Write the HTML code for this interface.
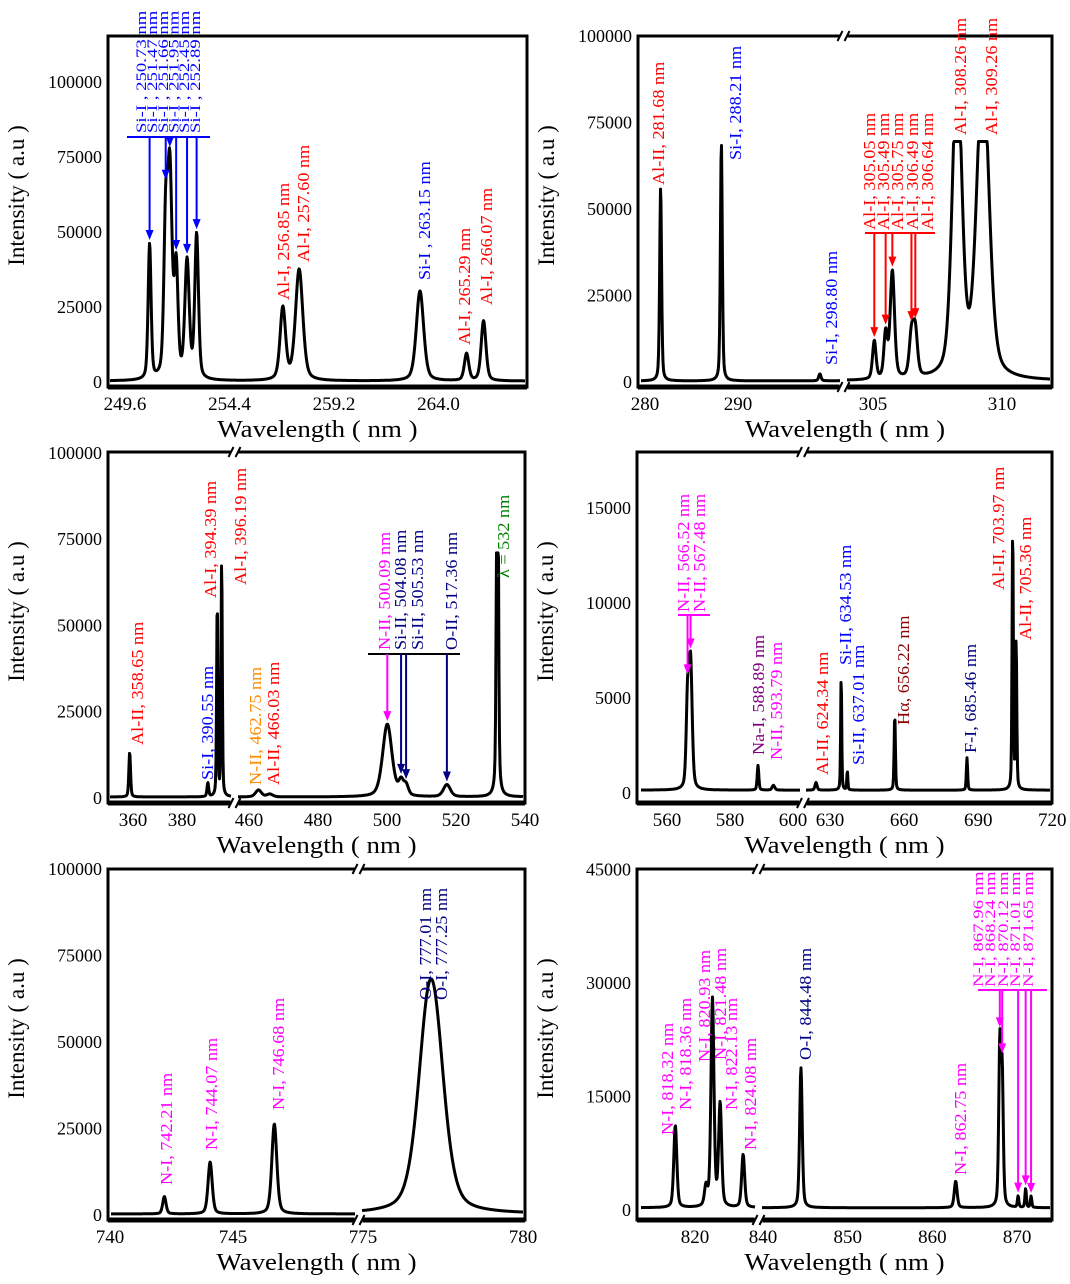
<!DOCTYPE html>
<html><head><meta charset="utf-8"><style>
html,body{margin:0;padding:0;background:#fff;}
svg{display:block;font-family:"Liberation Serif",serif;}
</style></head><body>
<svg id="fig" width="1070" height="1284" viewBox="0 0 1070 1284" xmlns="http://www.w3.org/2000/svg"></svg>
<script>
// ---------- data ----------
const p1YTicks=[0,25000,50000,75000,100000];
const p1XTicks=[249.6,254.4,259.2,264.0];
const p1Centers=[250.73,251.47,251.66,251.95,252.45,252.89,256.85,257.6,263.15,265.29,266.07];
const p1Heights=[45000,50000,68000,36000,39000,48000,24000,37000,30000,9000,20000];
const p1Widths=[0.08,0.1,0.12,0.1,0.12,0.1,0.15,0.2,0.2,0.12,0.13];

const p2YTicks=[0,25000,50000,75000,100000];
const p2XTicks=[280,290,305,310];
const p2Centers=[281.68,288.21,298.8,305.05,305.49,305.75,306.49,306.64,308.26,309.26];
const p2Heights=[56000,69000,2000,11000,13000,31000,12000,13000,90000,90000];
const p2Widths=[0.12,0.12,0.15,0.08,0.08,0.1,0.1,0.1,0.22,0.28];

const p3YTicks=[0,25000,50000,75000,100000];
const p3XTicks=[360,380,460,480,500,520,540];
const p3Centers=[358.65,390.55,394.39,396.19,462.75,466.03,500.09,504.08,505.53,517.36,532.0];
const p3Heights=[13000,4000,57000,69000,2000,800,21000,4000,3000,3500,150000];
const p3Widths=[0.4,0.4,0.3,0.3,1,1,1.6,0.8,0.8,1.2,0.3];

const p4YTicks=[0,5000,10000,15000];
const p4XTicks=[560,580,600,630,660,690,720];
const p4Centers=[566.52,567.48,588.89,593.79,624.34,634.53,637.01,656.22,685.46,703.97,705.36];
const p4Heights=[4500,6700,1300,250,400,6100,1000,4000,1700,13800,7800];
const p4Widths=[0.5,0.6,0.3,0.5,0.5,0.25,0.25,0.3,0.3,0.3,0.3];

const p5YTicks=[0,25000,50000,75000,100000];
const p5XTicks=[740,745,775,780];
const p5Centers=[742.21,744.07,746.68,777.01,777.25];
const p5Heights=[5000,15000,26000,37000,36000];
const p5Widths=[0.08,0.1,0.12,0.4,0.4];

const p6YTicks=[0,15000,30000,45000];
const p6XTicks=[820,840,850,860,870];
const p6Centers=[818.32,818.36,820.93,821.48,822.13,824.08,844.48,862.75,867.96,868.24,870.12,871.01,871.65];
const p6Heights=[8000,3000,2500,27500,13500,7000,18500,3500,21000,17000,1500,2500,1500];
const p6Widths=[0.15,0.15,0.15,0.15,0.15,0.15,0.18,0.2,0.15,0.15,0.1,0.1,0.1];

// ---------- helpers ----------
const NS='http://www.w3.org/2000/svg';
const svg=document.getElementById('fig');
function el(tag,attrs,parent){const e=document.createElementNS(NS,tag);for(const k in attrs)e.setAttribute(k,attrs[k]);(parent||svg).appendChild(e);return e;}
function stretch(t,f){const w=t.getComputedTextLength();if(w>0){t.setAttribute('textLength',(w*f).toFixed(1));t.setAttribute('lengthAdjust','spacingAndGlyphs');}}
const C={r:'#ff0000',b:'#0000ff',n:'#000080',m:'#ff00ff',g:'#008000',o:'#ff8c00',p:'#800080',d:'#8b0000'};

function panel(cfg){
  const g=el('g',{});
  
  
  const yp=v=>cfg.y0-v*cfg.ky;
  const xp=(v,tol)=>{tol=tol||0;for(const s of cfg.segs){const d0=s.ref+(s.p0-s.refPx-tol)/s.k,d1=s.ref+(s.p1-s.refPx+tol)/s.k;if(v>=d0-1e-9&&v<=d1+1e-9)return s.refPx+(v-s.ref)*s.k;}return null;};
  const spec=x=>{let y=cfg.base||300;for(let i=0;i<cfg.centers.length;i++){const d=(x-cfg.centers[i])/cfg.widths[i];y+=cfg.heights[i]*(0.6*Math.exp(-0.693*d*d)+0.4/(1+d*d));}return Math.min(y,cfg.cap||1e9);};
  cfg.segs.forEach((s,si)=>{
    let pts=[];
    for(let p=s.p0;p<=s.p1;p+=0.5){const v=s.ref+(p-s.refPx)/s.k;pts.push(p.toFixed(1)+','+yp(spec(v)).toFixed(1));}
    const pl=el('polyline',{points:pts.join(' '),fill:'none',stroke:'#000','stroke-width':3,'stroke-linejoin':'round'},g);
    
    
  });
  const fr=el('rect',{x:cfg.l,y:cfg.t,width:cfg.r-cfg.l,height:cfg.b-cfg.t,fill:'none',stroke:'#000','stroke-width':3},g);
  
  
  el('line',{x1:cfg.l,x2:cfg.r,y1:cfg.b,y2:cfg.b,stroke:'#000','stroke-width':5},g);
  if(cfg.segs.length>1){
    const bx=(cfg.segs[0].p1+cfg.segs[1].p0)/2;
    [cfg.t,cfg.b].forEach(yy=>{
      el('rect',{x:bx-4,y:yy-4,width:8,height:8,fill:'#fff'},g);
      const bk=el('path',{d:`M${bx-6},${yy+5} L${bx-1},${yy-5} M${bx+1},${yy+5} L${bx+6},${yy-5}`,stroke:'#000','stroke-width':2,fill:'none'},g);
      
      
    });
  }
  cfg.yTicks.forEach(v=>{
    const t=el('text',{x:cfg.l-6,y:yp(v)+6,'text-anchor':'end','font-size':18},g);
    
    
    t.textContent=v;
  });
  cfg.xTicks.forEach(v=>{
    const x=xp(v,20);if(x===null)return;
    const t=el('text',{x:x,y:cfg.b+23,'text-anchor':'middle','font-size':19},g);
    
    
    t.textContent=(cfg.fix?v.toFixed(1):v);
  });
  const yt=el('text',{transform:`translate(${cfg.l-84},${(cfg.t+cfg.b)/2-16}) rotate(-90)`,'text-anchor':'middle','font-size':23},g);
  
  
  yt.textContent='Intensity ( a.u )';
  const xt=el('text',{x:(cfg.l+cfg.r)/2,y:cfg.b+50,'text-anchor':'middle','font-size':24},g);
  
  
  xt.textContent='Wavelength ( nm )';
  stretch(xt,1.12);
  (cfg.clusters||[]).forEach(cl=>{
    const bl=el('line',{x1:cl.x1,x2:cl.x2,y1:cl.y,y2:cl.y,stroke:cl.c,'stroke-width':2},g);
    
    
    cl.targets.forEach(tg=>{
      const x=xp(tg.v);const yTop=yp(spec(tg.v))-3;
      const a=el('line',{x1:x,x2:x,y1:cl.y,y2:yTop-8,stroke:tg.c,'stroke-width':2},g);
      
      
      el('polygon',{points:`${x-4},${yTop-10} ${x+4},${yTop-10} ${x},${yTop}`,fill:tg.c},g);
    });
  });
  cfg.labels.forEach(lb=>{
    const t=el('text',{transform:`translate(${lb.x+6},${lb.y}) rotate(-90)`,'font-size':lb.s||17,fill:C[lb.c]},g);
    
    
    t.textContent=lb.t;
    stretch(t,lb.s?1.25:1.07);
  });
}

panel({name:'panel-si-al-250-266',l:108,t:36,r:527,b:387,y0:382,ky:0.003,yTicks:p1YTicks,xTicks:p1XTicks,fix:true,
 segs:[{ref:249.6,refPx:125,k:21.77,p0:110,p1:525}],centers:p1Centers,heights:p1Heights,widths:p1Widths,
 clusters:[{y:137,x1:127,x2:210,c:C.b,targets:[250.73,251.47,251.66,251.95,252.45,252.89].map(v=>({v,c:C.b}))}],
 labels:[
  {t:'Si-I , 250.73 nm',c:'b',x:140,y:133,s:15},{t:'Si-I , 251.47 nm',c:'b',x:151,y:133,s:15},
  {t:'Si-I , 251.66 nm',c:'b',x:162,y:133,s:15},{t:'Si-I , 251.95 nm',c:'b',x:172.5,y:133,s:15},
  {t:'Si-I , 252.45 nm',c:'b',x:183,y:133,s:15},{t:'Si-I , 252.89 nm',c:'b',x:194,y:133,s:15},
  {t:'Al-I, 256.85 nm',c:'r',x:283,y:300},{t:'Al-I, 257.60 nm',c:'r',x:303,y:262},
  {t:'Si-I , 263.15 nm',c:'b',x:424,y:280},{t:'Al-I, 265.29 nm',c:'r',x:464,y:345},{t:'Al-I, 266.07 nm',c:'r',x:486,y:305}]});

panel({name:'panel-al-280-312',l:638,t:36,r:1052,b:387,y0:382,ky:0.00346,yTicks:p2YTicks,xTicks:p2XTicks,cap:69500,
 segs:[{ref:280,refPx:645,k:9.3,p0:641,p1:840},{ref:305,refPx:873,k:25.8,p0:847,p1:1050}],
 centers:p2Centers,heights:p2Heights,widths:p2Widths,
 clusters:[{y:233,x1:865,x2:935,c:C.r,targets:[305.05,305.49,305.75,306.49,306.64].map(v=>({v,c:C.r}))}],
 labels:[
  {t:'Al-II, 281.68 nm',c:'r',x:658,y:185},{t:'Si-I, 288.21 nm',c:'b',x:735,y:160},{t:'Si-I, 298.80 nm',c:'b',x:831,y:365},
  {t:'Al-I, 305.05 nm',c:'r',x:869,y:230},{t:'Al-I, 305.49 nm',c:'r',x:883,y:230},{t:'Al-I, 305.75 nm',c:'r',x:897,y:230},
  {t:'Al-I, 306.49 nm',c:'r',x:912,y:230},{t:'Al-I, 306.64 nm',c:'r',x:927,y:230},
  {t:'Al-I, 308.26 nm',c:'r',x:960,y:135},{t:'Al-I, 309.26 nm',c:'r',x:991,y:135}]});

panel({name:'panel-358-540',l:108,t:452,r:525,b:803,y0:798,ky:0.003452,yTicks:p3YTicks,xTicks:p3XTicks,cap:71000,
 segs:[{ref:360,refPx:133,k:2.45,p0:110,p1:231},{ref:500,refPx:387,k:3.45,p0:238,p1:523}],
 centers:p3Centers,heights:p3Heights,widths:p3Widths,
 clusters:[{y:654,x1:368,x2:460,c:'#000',targets:[{v:500.09,c:C.m},{v:504.08,c:C.n},{v:505.53,c:C.n},{v:517.36,c:C.n}]}],
 labels:[
  {t:'Al-II, 358.65 nm',c:'r',x:137,y:745},{t:'Si-I, 390.55 nm',c:'b',x:207,y:780},
  {t:'Al-I, 394.39 nm',c:'r',x:210,y:598},{t:'Al-I, 396.19 nm',c:'r',x:240,y:585},
  {t:'N-II, 462.75 nm',c:'o',x:255,y:785},{t:'Al-II, 466.03 nm',c:'r',x:273,y:785},
  {t:'N-II, 500.09 nm',c:'m',x:384,y:650},{t:'Si-II, 504.08 nm',c:'n',x:400,y:650},{t:'Si-II, 505.53 nm',c:'n',x:417,y:650},
  {t:'O-II, 517.36 nm',c:'n',x:451,y:650},{t:'λ = 532 nm',c:'g',x:503,y:578}]});

panel({name:'panel-560-720',l:637,t:452,r:1052,b:803,y0:793,ky:0.019,yTicks:p4YTicks,xTicks:p4XTicks,base:150,
 segs:[{ref:560,refPx:667,k:3.15,p0:641,p1:800},{ref:630,refPx:830,k:2.47,p0:806,p1:1050}],
 centers:p4Centers,heights:p4Heights,widths:p4Widths,
 clusters:[{y:615,x1:678,x2:710,c:C.m,targets:[566.52,567.48].map(v=>({v,c:C.m}))}],
 labels:[
  {t:'N-II, 566.52 nm',c:'m',x:683,y:612},{t:'N-II, 567.48 nm',c:'m',x:699,y:612},
  {t:'Na-I, 588.89 nm',c:'p',x:758,y:755},{t:'N-II, 593.79 nm',c:'m',x:776,y:760},
  {t:'Al-II, 624.34 nm',c:'r',x:822,y:775},{t:'Si-II, 634.53 nm',c:'b',x:845,y:665},{t:'Si-II, 637.01 nm',c:'b',x:858,y:765},
  {t:'Hα, 656.22 nm',c:'d',x:903,y:725},{t:'F-I, 685.46 nm',c:'n',x:970,y:753},
  {t:'Al-II, 703.97 nm',c:'r',x:998,y:590},{t:'Al-II, 705.36 nm',c:'r',x:1025,y:640}]});

panel({name:'panel-740-780',l:108,t:869,r:525,b:1220,y0:1215,ky:0.00346,yTicks:p5YTicks,xTicks:p5XTicks,
 segs:[{ref:740,refPx:110,k:24.6,p0:111,p1:355},{ref:775,refPx:363,k:32,p0:362,p1:523}],
 centers:p5Centers,heights:p5Heights,widths:p5Widths,
 labels:[
  {t:'N-I, 742.21 nm',c:'m',x:166,y:1185},{t:'N-I, 744.07 nm',c:'m',x:211,y:1150},{t:'N-I, 746.68 nm',c:'m',x:278,y:1110},
  {t:'O-I, 777.01 nm',c:'n',x:425,y:1000},{t:'O-I, 777.25 nm',c:'n',x:441,y:1000}]});

panel({name:'panel-818-872',l:637,t:869,r:1052,b:1220,y0:1210,ky:0.007567,yTicks:p6YTicks,xTicks:p6XTicks,
 segs:[{ref:820,refPx:695,k:11.8,p0:641,p1:755},{ref:840,refPx:763,k:8.47,p0:762,p1:1050}],
 centers:p6Centers,heights:p6Heights,widths:p6Widths,
 clusters:[{y:990,x1:978,x2:1047,c:C.m,targets:[867.96,868.24,870.12,871.01,871.65].map(v=>({v,c:C.m}))}],
 labels:[
  {t:'N-I, 818.32 nm',c:'m',x:667,y:1135},{t:'N-I, 818.36 nm',c:'m',x:685,y:1110},
  {t:'N-I, 820.93 nm',c:'m',x:704,y:1062},{t:'N-I, 821.48 nm',c:'m',x:720,y:1060},
  {t:'N-I, 822.13 nm',c:'m',x:731,y:1110},{t:'N-I, 824.08 nm',c:'m',x:750,y:1150},
  {t:'O-I, 844.48 nm',c:'n',x:805,y:1060},{t:'N-I, 862.75 nm',c:'m',x:960,y:1175},
  {t:'N-I, 867.96 nm',c:'m',x:977,y:987,s:15},{t:'N-I, 868.24 nm',c:'m',x:989,y:987,s:15},{t:'N-I, 870.12 nm',c:'m',x:1002,y:987,s:15},
  {t:'N-I, 871.01 nm',c:'m',x:1014,y:987,s:15},{t:'N-I, 871.65 nm',c:'m',x:1027,y:987,s:15}]});
</script>
</body></html>
